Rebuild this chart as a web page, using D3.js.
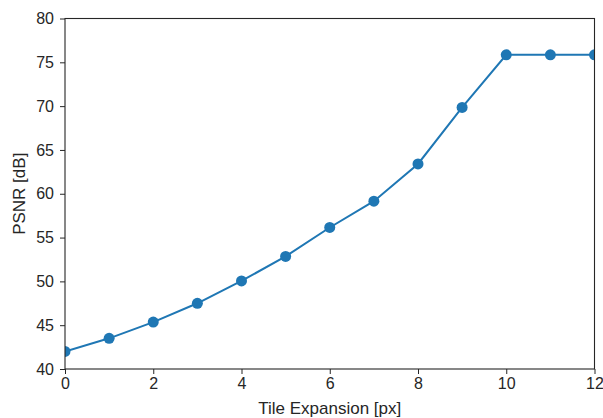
<!DOCTYPE html>
<html>
<head>
<meta charset="utf-8">
<script src="https://cdn.jsdelivr.net/npm/d3@7"></script>
<style>
  body { margin: 0; background: #fff; }
  text { font-family: "Liberation Sans", Arial, sans-serif; fill: #262626; }
</style>
</head>
<body>
<div id="vis"></div>
<script>
// tile expansion (px) vs PSNR (dB)
var expansion = [0, 1, 2, 3, 4, 5, 6, 7, 8, 9, 10, 11, 12];
var psnr = [42.0, 43.5, 45.35, 47.5, 50.05, 52.85, 56.15, 59.15, 63.4, 69.85, 75.85, 75.85, 75.85];
var xTicks = [0, 2, 4, 6, 8, 10, 12];
var yTicks = [40, 45, 50, 55, 60, 65, 70, 75, 80];

var width = 603,
    height = 418;
var margin = {left: 65, right: 8.5, top: 18.5, bottom: 49};

var svg = d3.select("#vis").append("svg")
    .attr("width", width)
    .attr("height", height);

var x = d3.scaleLinear().domain([0, 12]).range([margin.left, width - margin.right]);
var y = d3.scaleLinear().domain([40, 80]).range([height - margin.bottom, margin.top]);

svg.append("defs").append("clipPath")
    .attr("id", "plotclip")
  .append("rect")
    .attr("x", margin.left)
    .attr("y", margin.top)
    .attr("width", x.range()[1] - margin.left)
    .attr("height", y.range()[0] - margin.top);

var data = expansion.map(function(d, i) { return {x: d, y: psnr[i]}; });

var plot = svg.append("g").attr("clip-path", "url(#plotclip)");

plot.append("path")
    .datum(data)
    .attr("fill", "none")
    .attr("stroke", "#1f77b4")
    .attr("stroke-width", 2)
    .attr("d", d3.line().x(function(d) { return x(d.x); }).y(function(d) { return y(d.y); }));

plot.selectAll("circle")
    .data(data)
    .enter().append("circle")
      .attr("cx", function(d) { return x(d.x); })
      .attr("cy", function(d) { return y(d.y); })
      .attr("r", 5.5)
      .attr("fill", "#1f77b4");

var xAxis = svg.append("g")
    .attr("transform", "translate(0," + y.range()[0] + ")")
    .call(d3.axisBottom(x).tickValues(xTicks).tickSize(5).tickPadding(4));
var yAxis = svg.append("g")
    .attr("transform", "translate(" + margin.left + ",0)")
    .call(d3.axisLeft(y).tickValues(yTicks).tickSize(5).tickPadding(6));

[xAxis, yAxis].forEach(function(a) {
  a.select(".domain").remove();
  a.selectAll("line").attr("stroke", "#262626").attr("stroke-width", 1);
  a.selectAll("text").style("font-size", "16px").attr("fill", "#262626");
});

// frame
svg.append("rect")
    .attr("x", margin.left)
    .attr("y", margin.top)
    .attr("width", x.range()[1] - margin.left)
    .attr("height", y.range()[0] - margin.top)
    .attr("fill", "none")
    .attr("stroke", "#262626")
    .attr("stroke-width", 1.1);

svg.append("text")
    .attr("x", (x.range()[0] + x.range()[1]) / 2)
    .attr("y", 414)
    .attr("text-anchor", "middle")
    .style("font-size", "17px")
    .text("Tile Expansion [px]");

svg.append("text")
    .attr("transform", "translate(25," + ((y.range()[0] + y.range()[1]) / 2) + ") rotate(-90)")
    .attr("text-anchor", "middle")
    .style("font-size", "17px")
    .text("PSNR [dB]");
</script>
</body>
</html>
